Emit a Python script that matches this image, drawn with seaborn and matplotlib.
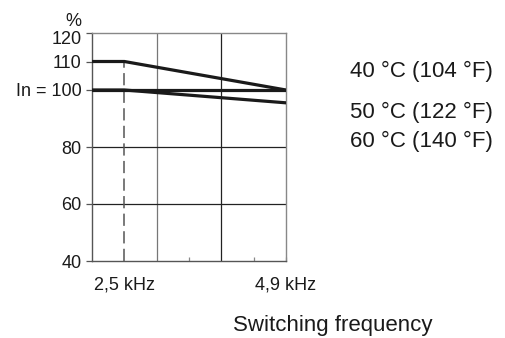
import matplotlib
matplotlib.use("Agg")
import matplotlib.pyplot as plt
import matplotlib.transforms as mtransforms
import pandas as pd
import seaborn as sns

# ==========
# DATA
# ==========

freq_khz = [2.02, 2.5, 4.9]
curve_40c = [110, 110, 100]
curve_50c = [100, 100, 100]
curve_60c = [100, 100, 95.5]
series_labels = ["40 °C (104 °F)", "50 °C (122 °F)", "60 °C (140 °F)"]

y_ticks = [40, 60, 80, 100, 110, 120]
y_tick_labels = ["40", "60", "80", "In = 100", "110", "120"]
x_tick_values = [2.5, 4.9]
x_tick_labels = ["2,5 kHz", "4,9 kHz"]
x_label = "Switching frequency"

W, H = 505, 338


def px(x, y):
    # pixel position (from top-left) -> figure fraction
    return x / W, 1 - y / H


# ==========
# PLOT
# ==========

sns.set_style("white")
plt.rcParams["font.family"] = ["Liberation Sans", "DejaVu Sans"]

df = pd.DataFrame({
    "freq": freq_khz * 3,
    "pct": curve_40c + curve_50c + curve_60c,
    "series": [s for s in series_labels for _ in freq_khz],
})

fig = plt.figure(figsize=(W / 100, H / 100), dpi=100)
ax = fig.add_axes([92 / W, 1 - 261 / H, (286 - 92) / W, (261 - 33) / H])

x_left = 2.5 - (4.9 - 2.5) / 5
cell = (4.9 - 2.5) / 2.5
grid_x = [x_left + cell, x_left + 2 * cell]

for gx, col in zip(grid_x, ["#777777", "#222222"]):
    ax.axvline(gx, color=col, lw=0.9, zorder=1)
for gy in [60, 80, 100]:
    ax.axhline(gy, color="#222222", lw=0.9, zorder=1)

ax.plot([2.5, 2.5], [40, 110], color="#555555", lw=1.1,
        dashes=(8, 3.5), zorder=2)

sns.lineplot(data=df, x="freq", y="pct", units="series", estimator=None,
             color="#1a1a1a", lw=2.3, legend=False, ax=ax, zorder=3)

ax.set_xlim(x_left, 4.9)
ax.set_ylim(40, 120)

for side in ["top", "right"]:
    ax.spines[side].set_color("#888888")
    ax.spines[side].set_linewidth(1.0)
for side in ["left", "bottom"]:
    ax.spines[side].set_color("#555555")
    ax.spines[side].set_linewidth(1.0)

ax.set_yticks(y_ticks)
ax.set_yticklabels(y_tick_labels, fontsize=13, color="#1a1a1a")
ax.tick_params(axis="y", direction="out", length=4, width=0.9,
               color="#555555", pad=3.5, left=True)
# top label sits a little lower in the reference
top_lab = ax.get_yticklabels()[-1]
top_lab.set_transform(top_lab.get_transform() +
                      mtransforms.ScaledTranslation(0, -4 / 100, fig.dpi_scale_trans))

minor_x = [x_left + 1.5 * cell, x_left + 2.5 * cell, 4.9]
ax.set_xticks(minor_x)
ax.set_xticklabels([])
ax.tick_params(axis="x", direction="in", length=3, width=0.9,
               color="#888888", bottom=True)

ax.set_xlabel("")
ax.set_ylabel("")

blend = mtransforms.blended_transform_factory(ax.transData, fig.transFigure)
for xv, lab in zip(x_tick_values, x_tick_labels):
    ax.text(xv, px(0, 290)[1], lab, transform=blend, ha="center",
            va="baseline", fontsize=13, color="#1a1a1a", clip_on=False)

fig.text(*px(81, 26), "%", ha="right", va="baseline", fontsize=13,
         color="#1a1a1a")

for lab, base in zip(series_labels, [77, 118, 147]):
    fig.text(*px(350, base), lab, ha="left", va="baseline", fontsize=16,
             color="#1a1a1a")

fig.text(*px(233, 331), x_label, ha="left", va="baseline",
         fontsize=16, color="#1a1a1a")

fig.savefig("out.png", dpi=100)
